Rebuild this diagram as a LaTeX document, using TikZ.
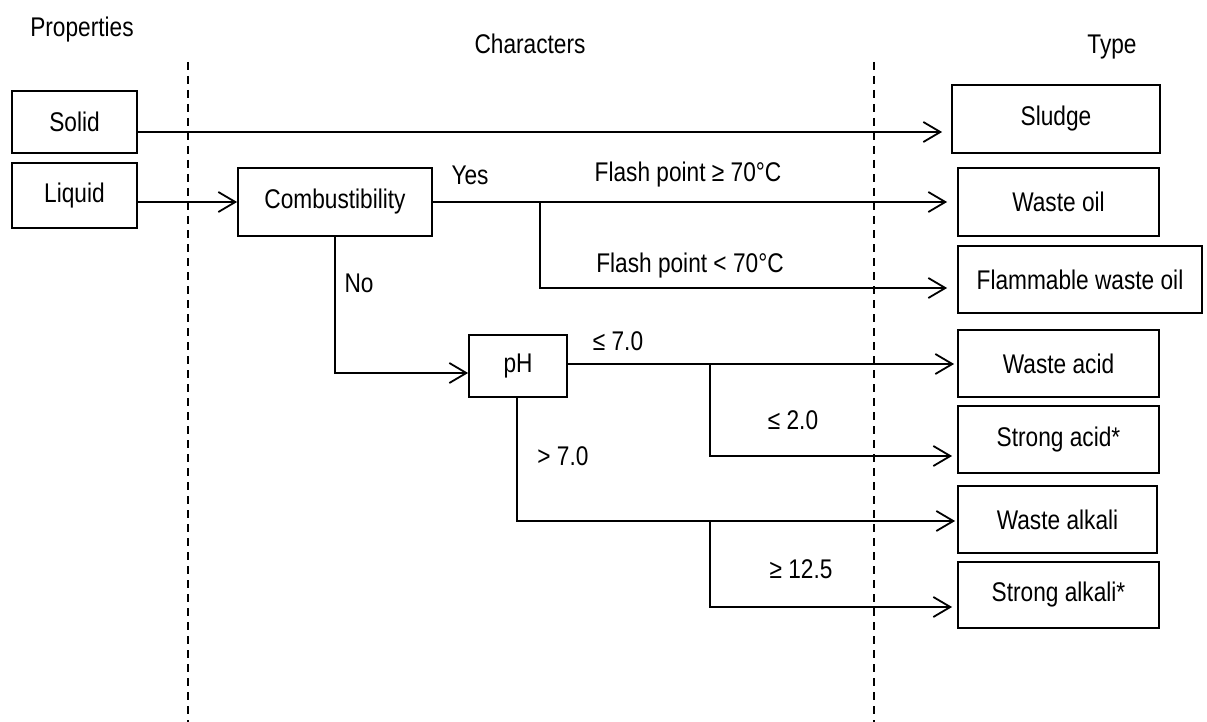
\documentclass[tikz,border=0pt]{standalone}
\usepackage{fontspec}
\setmainfont{Liberation Sans}[FakeStretch=0.84]
\usetikzlibrary{arrows.meta}
\tikzset{
  every node/.style={font=\fontsize{27}{32}\selectfont, inner sep=0pt},
  box/.style={draw, line width=1.8pt, rectangle, inner sep=0pt},
  arr/.style={line width=1.8pt, -{Straight Barb[length=17pt,width=20pt,line width=1.8pt]}},
  divider/.style={line width=1.8pt, dash pattern=on 8pt off 6pt},
  lbl/.style={anchor=base},
}
\begin{document}
\begin{tikzpicture}[x=1pt,y=-1pt]
\useasboundingbox (0,0) rectangle (1207,722);
% column titles
\node[lbl] (tprop) at (82,37) {Properties};
\node[lbl] (tchar) at (530,54) {Characters};
\node[lbl] (ttype) at (1112,54) {Type};
% dividers
\coordinate (d1t) at (188,62); \coordinate (d1b) at (188,722);
\coordinate (d2t) at (874,62); \coordinate (d2b) at (874,722);
\draw[divider] (d1t) -- (d1b);
\draw[divider] (d2t) -- (d2b);
% boxes
\node[box, minimum width=125pt, minimum height=62pt] (solid) at (74.5,122) {Solid};
\node[box, minimum width=125pt, minimum height=65pt] (liquid) at (74.5,195.5) {Liquid};
\node[box, minimum width=194pt, minimum height=68pt] (comb) at (335,202) {Combustibility};
\node[box, minimum width=98pt, minimum height=62pt] (ph) at (518,366) {pH};
\node[box, minimum width=208pt, minimum height=68pt] (sludge) at (1056,119) {Sludge};
\node[box, minimum width=201pt, minimum height=68pt] (woil) at (1058.5,202) {Waste oil};
\node[box, minimum width=244pt, minimum height=67pt] (foil) at (1080,279.5) {Flammable waste oil};
\node[box, minimum width=201pt, minimum height=67pt] (wacid) at (1058.5,363.5) {Waste acid};
\node[box, minimum width=201pt, minimum height=67pt] (sacid) at (1058.5,439.5) {Strong acid*};
\node[box, minimum width=199pt, minimum height=67pt] (walk) at (1057.5,519.5) {Waste alkali};
\node[box, minimum width=201pt, minimum height=66pt] (salk) at (1058.5,595) {Strong alkali*};
% branch points
\coordinate (b1) at (540,202);
\coordinate (b1d) at (540,288);
\coordinate (c1) at (comb.south |- 0,373);
\coordinate (b2) at (710,364);
\coordinate (b2d) at (710,456);
\coordinate (p1) at (517,521);
\coordinate (b3) at (710,521);
\coordinate (b3d) at (710,607);
% connectors
\draw[arr, shorten >=9pt] (solid.east |- 0,132) -- (sludge.west |- 0,132);
\draw[arr] (liquid.east |- 0,202) -- (comb.west |- 0,202);
\draw[arr, shorten >=10pt] (comb.east |- 0,202) -- (woil.west |- 0,202);
\draw[arr, shorten >=10pt] (b1) -- (b1d) -- (foil.west |- b1d);
\draw[arr] (comb.south) -- (c1) -- (ph.west |- c1);
\draw[arr, shorten >=3pt] (ph.east |- b2) -- (wacid.west |- b2);
\draw[arr, shorten >=5pt] (b2) -- (b2d) -- (sacid.west |- b2d);
\draw[arr, shorten >=2pt] (ph.south -| p1) -- (p1) -- (walk.west |- p1);
\draw[arr, shorten >=5pt] (b3) -- (b3d) -- (salk.west |- b3d);
% labels
\node[lbl] (lyes) at (470,185) {Yes};
\node[lbl] (lfp1) at (688,182) {Flash point ≥ 70°C};
\node[lbl] (lfp2) at (690,272) {Flash point < 70°C};
\node[lbl] (lno) at (359,292) {No};
\node[lbl] (l70a) at (618,350) {≤ 7.0};
\node[lbl] (l70b) at (563,465) {> 7.0};
\node[lbl] (l20) at (793,429) {≤ 2.0};
\node[lbl] (l125) at (801,578) {≥ 12.5};
\end{tikzpicture}
\end{document}
